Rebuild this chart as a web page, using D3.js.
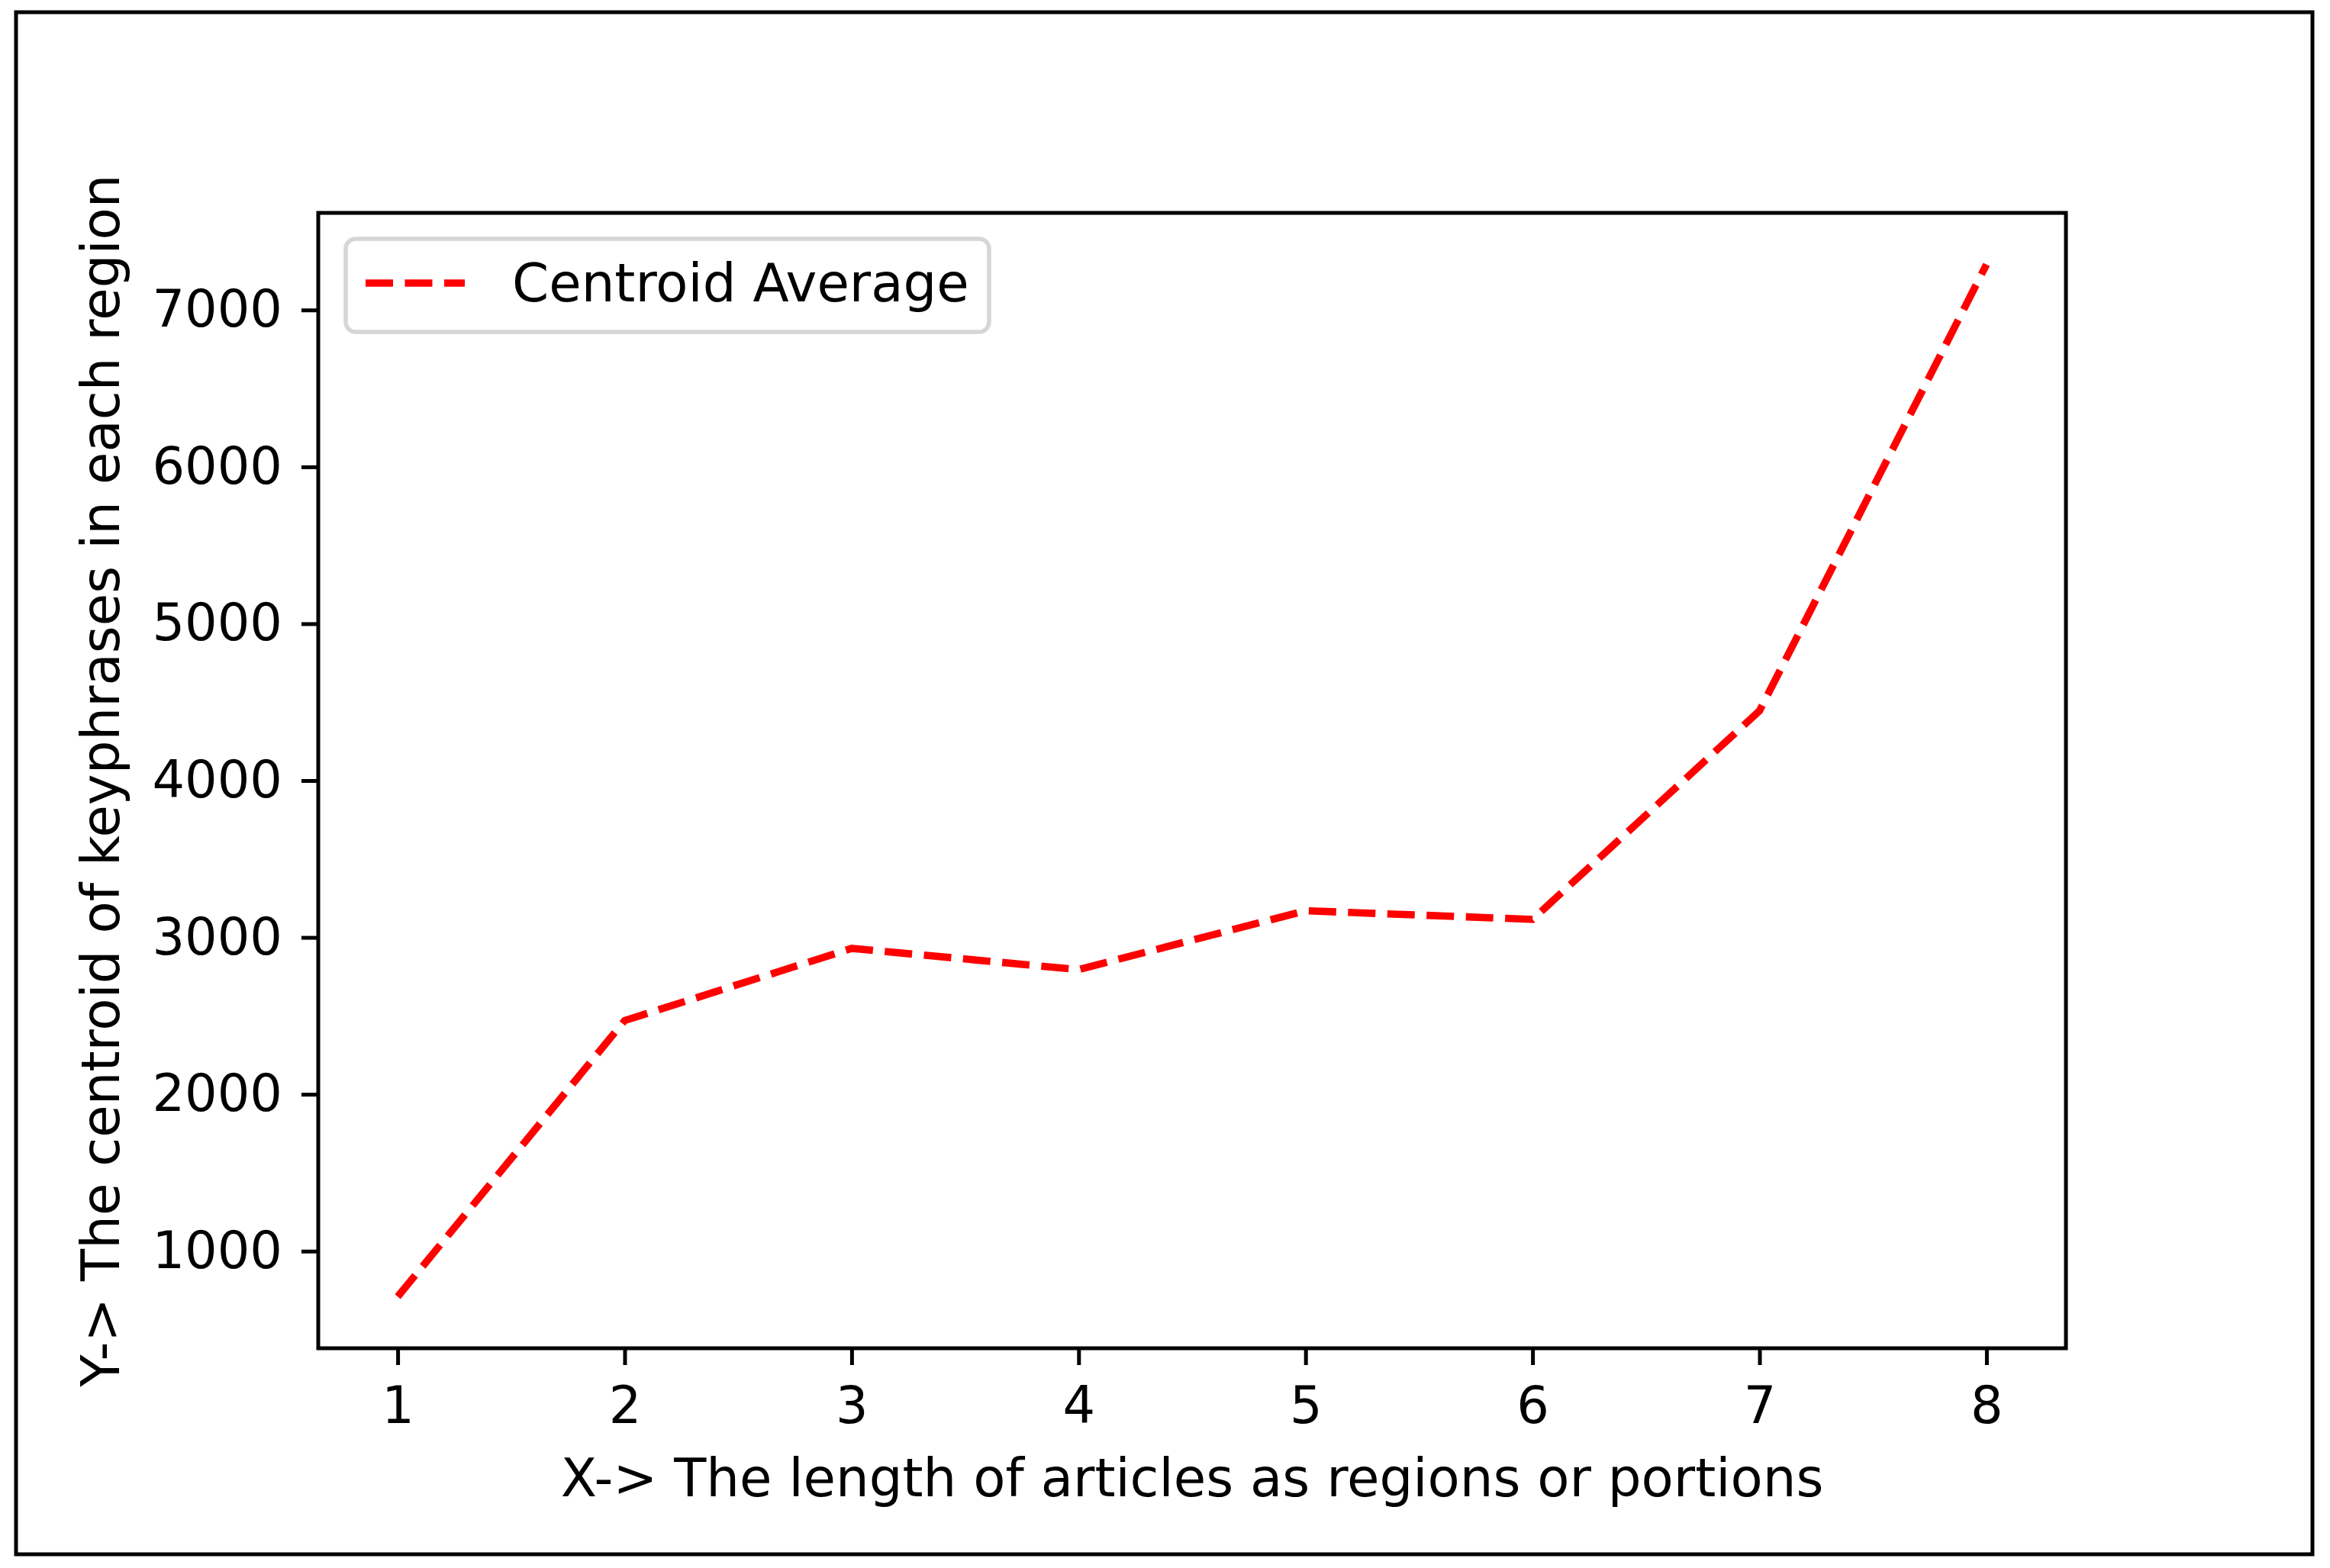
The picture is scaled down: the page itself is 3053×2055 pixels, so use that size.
<!DOCTYPE html>
<html>
<head>
<meta charset="utf-8">
<script src="https://cdn.jsdelivr.net/npm/d3@7"></script>
<style>
  body { margin: 0; background: #fff; }
  svg { display: block; font-family: "DejaVu Sans", sans-serif; }
</style>
</head>
<body>
<svg></svg>
<script>
// data
let regions = [1, 2, 3, 4, 5, 6, 7, 8]
let centroidAvg = [710, 2470, 2930, 2795, 3170, 3115, 4445, 7290]
let xTicks = [1, 2, 3, 4, 5, 6, 7, 8]
let yTicks = [1000, 2000, 3000, 4000, 5000, 6000, 7000]
let seriesName = 'Centroid Average'
let xLabel = 'X-> The length of articles as regions or portions'
let yLabel = 'Y-> The centroid of keyphrases in each region'

let width = 3053
let height = 2055
let fontSize = 69
let tickFontSize = 67

// axes box (pixels)
let axLeft = 417, axRight = 2707, axTop = 279, axBottom = 1767

let svg = d3.select('svg')
let xScale, yScale

drawCanvas = () => {
    svg.attr('width', width).attr('height', height)
    svg.append('rect')
        .attr('x', 21).attr('y', 16)
        .attr('width', 3009).attr('height', 2021)
        .attr('fill', 'none').attr('stroke', '#000').attr('stroke-width', 5)
}

generateScales = () => {
    // matplotlib style 5% margins
    let xr = d3.extent(regions)
    let xm = (xr[1] - xr[0]) * 0.05
    xScale = d3.scaleLinear().domain([xr[0] - xm, xr[1] + xm]).range([axLeft, axRight])

    let yr = d3.extent(centroidAvg)
    let ym = (yr[1] - yr[0]) * 0.05
    yScale = d3.scaleLinear().domain([yr[0] - ym, yr[1] + ym]).range([axBottom, axTop])
}

drawLine = () => {
    let line = d3.line()
        .x((d, i) => xScale(regions[i]))
        .y((d) => yScale(d))

    svg.append('path')
        .datum(centroidAvg)
        .attr('d', line)
        .attr('fill', 'none')
        .attr('stroke', '#ff0000')
        .attr('stroke-width', 9.6)
        .attr('stroke-dasharray', '36,15.5')
}

generateAxes = () => {
    let xAxis = d3.axisBottom(xScale).tickValues(xTicks).tickFormat(d3.format('d'))
        .tickSizeInner(22).tickSizeOuter(0).tickPadding(28)
    let yAxis = d3.axisLeft(yScale).tickValues(yTicks).tickFormat(d3.format('d'))
        .tickSizeInner(22).tickSizeOuter(0).tickPadding(25)

    let gx = svg.append('g')
        .attr('transform', 'translate(0,' + axBottom + ')')
        .call(xAxis)
    let gy = svg.append('g')
        .attr('transform', 'translate(' + axLeft + ',0)')
        .call(yAxis)

    for (let g of [gx, gy]) {
        g.select('.domain').remove()
        g.selectAll('line').attr('stroke', '#000').attr('stroke-width', 5)
        g.selectAll('text')
            .attr('fill', '#000')
            .style('font-size', tickFontSize + 'px')
            .style('font-family', '"DejaVu Sans", sans-serif')
    }

    // spines
    svg.append('rect')
        .attr('x', axLeft).attr('y', axTop)
        .attr('width', axRight - axLeft).attr('height', axBottom - axTop)
        .attr('fill', 'none').attr('stroke', '#000').attr('stroke-width', 5)

    svg.append('text')
        .attr('x', (axLeft + axRight) / 2).attr('y', 1961)
        .attr('text-anchor', 'middle')
        .style('font-size', fontSize + 'px')
        .text(xLabel)

    svg.append('text')
        .attr('transform', 'translate(156,' + (axTop + axBottom) / 2 + ') rotate(-90)')
        .attr('text-anchor', 'middle')
        .style('font-size', fontSize + 'px')
        .text(yLabel)
}

drawLegend = () => {
    let lg = svg.append('g')
    lg.append('rect')
        .attr('x', 453).attr('y', 313)
        .attr('width', 843).attr('height', 122)
        .attr('rx', 13)
        .attr('fill', '#fff').attr('fill-opacity', 0.8)
        .attr('stroke', '#d6d6d6').attr('stroke-width', 5.5)
    lg.append('line')
        .attr('x1', 479).attr('x2', 609)
        .attr('y1', 371).attr('y2', 371)
        .attr('stroke', '#ff0000')
        .attr('stroke-width', 9.6)
        .attr('stroke-dasharray', '36,15.5')
    lg.append('text')
        .attr('x', 671).attr('y', 395)
        .style('font-size', fontSize + 'px')
        .text(seriesName)
}

drawCanvas()
generateScales()
drawLine()
generateAxes()
drawLegend()
</script>
</body>
</html>
